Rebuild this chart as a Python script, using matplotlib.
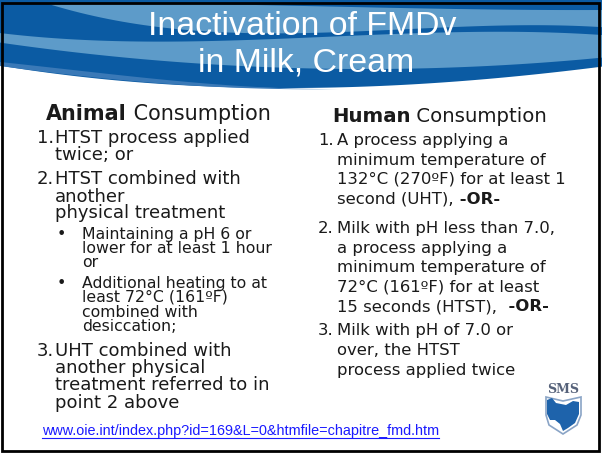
import matplotlib
matplotlib.use('Agg')
import matplotlib.pyplot as plt
from matplotlib.patches import Polygon, Rectangle
import numpy as np

# slide text
title_lines = ['Inactivation of FMDv', 'in Milk, Cream']

left_head = [('Animal', True), (' Consumption', False)]
left_items = [
    ('1.', ['HTST process applied', 'twice; or']),
    ('2.', ['HTST combined with', 'another', 'physical treatment']),
]
left_bullets = [
    ['Maintaining a pH 6 or', 'lower for at least 1 hour', 'or'],
    ['Additional heating to at', 'least 72°C (161ºF)', 'combined with', 'desiccation;'],
]
left_last = ('3.', ['UHT combined with', 'another physical', 'treatment referred to in', 'point 2 above'])

right_head = [('Human', True), (' Consumption', False)]
right_items = [
    ('1.', [[('A process applying a', False)],
            [('minimum temperature of', False)],
            [('132°C (270ºF) for at least 1', False)],
            [('second (UHT),', False), (' -OR-', True)]]),
    ('2.', [[('Milk with pH less than 7.0,', False)],
            [('a process applying a', False)],
            [('minimum temperature of', False)],
            [('72°C (161ºF) for at least', False)],
            [('15 seconds (HTST),', False), ('  -OR-', True)]]),
    ('3.', [[('Milk with pH of 7.0 or', False)],
            [('over, the HTST', False)],
            [('process applied twice', False)]]),
]

link = 'www.oie.int/index.php?id=169&L=0&htmfile=chapitre_fmd.htm'

W, H = 602, 453
DARK = '#0b5ba3'
LIGHT = '#5d9bc9'
INK = '#1a1a1a'

fig = plt.figure(figsize=(6.02, 4.53), dpi=100)
ax = fig.add_axes([0, 0, 1, 1])
ax.set_xlim(0, W)
ax.set_ylim(H, 0)
ax.axis('off')
fig.patch.set_facecolor('white')
renderer = fig.canvas.get_renderer()


def width(t):
    return t.get_window_extent(renderer=renderer).width


def fit_size(text, target, family, weight='normal'):
    t = ax.text(0, 0, text, fontsize=20, family=family, fontweight=weight)
    w = width(t)
    t.remove()
    return 20 * target / w


def edge(pts, xs, deg=3):
    px, py = zip(*pts)
    return np.polyval(np.polyfit(px, py, deg), xs)


def band(top, bottom, x0, x1, color, deg=3):
    xs = np.linspace(x0, x1, 80)
    yt = edge(top, xs, deg) if isinstance(top, list) else np.full_like(xs, top)
    yb = edge(bottom, xs, deg)
    verts = np.vstack([np.column_stack([xs, yt]), np.column_stack([xs[::-1], yb[::-1]])])
    ax.add_patch(Polygon(verts, closed=True, facecolor=color, edgecolor='none'))


# header waves
bottom_edge = [(0, 66), (100, 78), (200, 86), (300, 89), (400, 85), (500, 77), (602, 67)]
band(0, bottom_edge, 0, W, DARK)
band([(0, 62), (100, 73), (200, 83), (340, 89)], [(0, 66), (100, 78), (200, 86), (340, 89)],
     0, 340, '#3a79b7')
band([(45, 3), (200, 4), (400, 8), (602, 10)],
     [(45, 3), (130, 22), (210, 34), (300, 31), (450, 28), (602, 27)], 45, W, LIGHT)
band([(0, 33), (150, 42), (230, 40), (350, 36), (602, 35)],
     [(0, 43), (150, 58), (250, 68), (350, 70), (450, 66), (602, 58)], 0, W, LIGHT)

# title
ts = fit_size(title_lines[0], 308, 'Liberation Sans')
ax.text(302, 35, title_lines[0], fontsize=ts, family='Liberation Sans', color='white',
        ha='center', va='baseline')
ax.text(306, 71, title_lines[1], fontsize=ts, family='Liberation Sans', color='white',
        ha='center', va='baseline')

FAM = 'DejaVu Sans'


def runs(x, y, parts, size, color=INK):
    for s, bold in parts:
        t = ax.text(x, y, s, fontsize=size, family=FAM, fontweight='bold' if bold else 'normal',
                    color=color, ha='left', va='baseline')
        x += width(t)
    return x


# left column
head_size = fit_size('Animal Consumption', 216, FAM)
runs(46, 120, left_head, head_size)

main_size = fit_size('1.HTST process applied', 211, FAM)
sub_size = fit_size('lower for at least 1 hour', 190, FAM)

y_left = [[143, 160], [184, 201.5, 218]]
for (num, lines), ys in zip(left_items, y_left):
    ax.text(37, ys[0], num, fontsize=main_size, family=FAM, color=INK, va='baseline')
    for s, y in zip(lines, ys):
        ax.text(55, y, s, fontsize=main_size, family=FAM, color=INK, va='baseline')

y_sub = [[239, 253, 267], [288, 302, 317, 331]]
for lines, ys in zip(left_bullets, y_sub):
    ax.text(57, ys[0], '•', fontsize=sub_size, family=FAM, color=INK, va='baseline')
    for s, y in zip(lines, ys):
        ax.text(82, y, s, fontsize=sub_size, family=FAM, color=INK, va='baseline')

num, lines = left_last
for i, (s, y) in enumerate(zip(lines, [356, 373, 390, 408])):
    if i == 0:
        ax.text(37, y, num, fontsize=main_size, family=FAM, color=INK, va='baseline')
    ax.text(55, y, s, fontsize=main_size, family=FAM, color=INK, va='baseline')

# right column
runs(332, 122, right_head, fit_size('Human Consumption', 208, FAM))
rsize = fit_size('A process applying a', 171, FAM)
y_right = [[145, 164.5, 184, 203.5], [233, 252.5, 272, 291.5, 311], [335, 355, 375]]
for (num, lines), ys in zip(right_items, y_right):
    ax.text(318, ys[0], num, fontsize=rsize, family=FAM, color=INK, va='baseline')
    for parts, y in zip(lines, ys):
        runs(337, y, parts, rsize)

# link
lsize = fit_size(link, 395, 'Liberation Sans')
lt = ax.text(42, 435, link, fontsize=lsize, family='Liberation Sans', color='#1a1aff',
             va='baseline')
ax.plot([42, 42 + width(lt)], [437.5, 437.5], color='#1a1aff', lw=0.8)

# SMS logo
ax.text(563, 393, 'SMS', fontsize=9, family='DejaVu Serif', fontweight='bold',
        color='#56627a', ha='center', va='baseline')
shield = [(546, 397), (563, 401), (581, 397), (581, 415), (577, 425), (563, 434),
          (549, 425), (546, 415)]
ax.add_patch(Polygon(shield, closed=True, facecolor='white', edgecolor='#8aa4c6', lw=1.2))
head = [(547, 400), (552, 398), (556, 403), (566, 405), (573, 401), (579, 402),
        (579, 414), (575, 423), (568, 428), (563, 431), (560, 424), (555, 420),
        (550, 420), (547, 414)]
ax.add_patch(Polygon(head, closed=True, facecolor='#1e63ab', edgecolor='none'))

# slide frame
ax.add_patch(Rectangle((2, 2.5), 597, 448, facecolor='none', edgecolor='black', lw=2))

fig.savefig('out.png', dpi=100)
